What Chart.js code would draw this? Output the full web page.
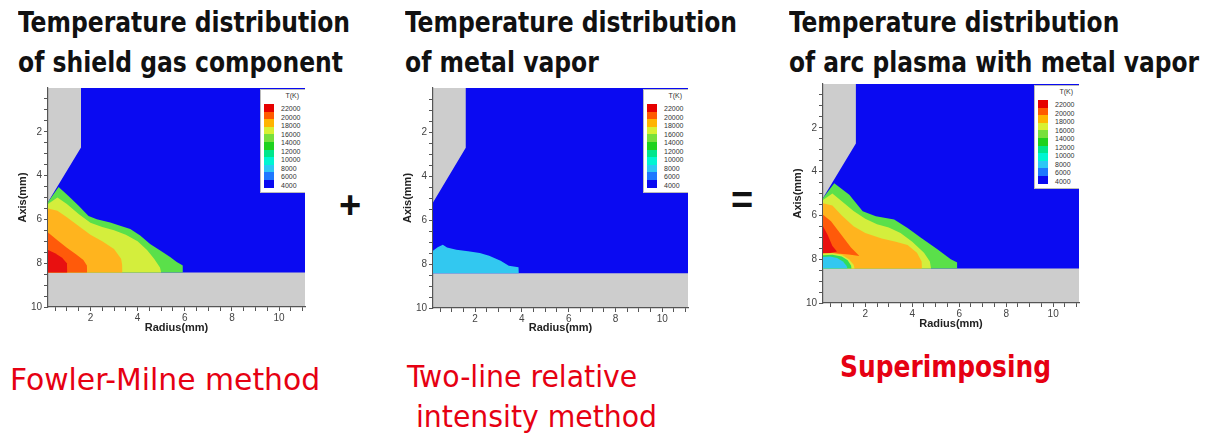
<!DOCTYPE html>
<html>
<head>
<meta charset="utf-8">
<script src="https://cdn.jsdelivr.net/npm/chart.js@4.4.1/dist/chart.umd.min.js"></script>
<style>
  body { margin: 0; width: 1208px; height: 434px; background: #fff; position: relative; overflow: hidden; font-family: "Liberation Sans", Arial, sans-serif; }
  .title { position: absolute; font-family: "Liberation Sans Narrow", "DejaVu Sans Condensed", sans-serif; font-stretch: condensed; font-weight: bold; font-size: 28px; line-height: 40px; color: #111; white-space: nowrap; transform-origin: 0 0; }
  .note { position: absolute; font-family: "Liberation Sans Narrow", "DejaVu Sans Condensed", sans-serif; font-stretch: condensed; font-size: 30px; line-height: 40px; color: #e60012; white-space: nowrap; transform-origin: 0 0; }
  .op { position: absolute; font-family: "Liberation Sans", Arial, sans-serif; font-weight: bold; font-size: 38px; color: #111; }
  .panel { position: absolute; }
  .panel canvas { position: absolute; left: 0; top: 0; }
  .lg { position: absolute; background: #fff; width: 45px; height: 104px; font-size: 7px; color: #333; box-sizing: border-box; border: 1px solid #bbb; border-right: none; }
  .lg .sw { position: absolute; left: 3px; width: 10px; }
  .lg .lb { position: absolute; left: 20px; line-height: 8px; }
  .lg .tk { position: absolute; right: 6px; top: 2px; }
</style>
</head>
<body>
<div class="title fit" data-w="332" style="left:18px;top:3px">Temperature distribution<br>of shield gas component</div>
<div class="title fit" data-w="332" style="left:405px;top:3px">Temperature distribution<br>of metal vapor</div>
<div class="title fit" data-w="410" style="left:789px;top:3px">Temperature distribution<br>of arc plasma with metal vapor</div>

<div class="op" style="left:339px;top:184px">+</div>
<div class="op" style="left:731px;top:179px">=</div>

<div class="note fit" data-w="310" style="left:10px;top:360px">Fowler-Milne method</div>
<div class="note fit" data-w="250" style="left:407px;top:357px">Two-line relative<br>&nbsp;intensity method</div>
<div class="note fit" data-w="211" style="left:840px;top:346px;font-size:31px;font-weight:bold">Superimposing</div>

<div class="panel" id="p1" style="left:0px;top:80px"><canvas id="c1" width="320" height="260"></canvas></div>
<div class="panel" id="p2" style="left:390px;top:80px"><canvas id="c2" width="310" height="260"></canvas></div>
<div class="panel" id="p3" style="left:780px;top:76px"><canvas id="c3" width="310" height="260"></canvas></div>

<script>
// axis ranges (mm)
const radiusMin = 0.2, radiusMax = 11.1;
const axisMin = 0, axisMax = 10;
const tickLabels = [2, 4, 6, 8, 10];
const anodeLevel = 8.42; // top of the anode (gray below)

// gas domain boundary: electrode tip edge then top of domain
const gasDomain = [[0.2, 5.2], [1.6, 2.72], [1.6, 0], [11.1, 0]];

// legend
const legendLevels = [22000, 20000, 18000, 16000, 14000, 12000, 10000, 8000, 6000, 4000];
const legendColors = ['#e60000', '#ff5a00', '#ffb400', '#d8f032', '#78e03c', '#1ed21e', '#00e68c', '#00f5d2', '#2dc8f5', '#1e78ff', '#0a0af0'];

// shield gas component (Fowler-Milne)
const shieldT14 = [[0.2, 5.2], [0.65, 4.52], [1.07, 4.93], [1.5, 5.38], [1.92, 5.84], [2.27, 5.99], [2.84, 6.14], [3.26, 6.29], [3.69, 6.44], [4.11, 6.74], [4.53, 7.12], [4.96, 7.42], [5.38, 7.72], [5.66, 7.95], [5.92, 8.1]];
const shieldT16 = [[0.2, 5.3], [0.6, 5.0], [1.0, 5.3], [1.5, 5.75], [2.0, 6.15], [2.5, 6.35], [3.0, 6.5], [3.5, 6.7], [4.0, 7.0], [4.4, 7.4], [4.7, 7.8], [4.95, 8.2], [5.0, 8.42]];
const shieldT18 = [[0.2, 5.5], [0.6, 5.6], [1.0, 5.9], [1.5, 6.3], [2.0, 6.7], [2.5, 7.0], [3.0, 7.35], [3.3, 7.8], [3.35, 8.1], [3.36, 8.42]];
const shieldT20 = [[0.2, 6.6], [0.6, 6.95], [1.0, 7.3], [1.4, 7.6], [1.7, 7.85], [1.85, 8.1], [1.86, 8.42]];
const shieldT22 = [[0.2, 7.4], [0.5, 7.55], [0.8, 7.75], [1.0, 8.0], [1.02, 8.3]];

// metal vapor (two-line relative intensity)
const vaporT8 = [[0.2, 7.4], [0.4, 7.24], [0.62, 7.12], [0.8, 7.25], [1.2, 7.35], [1.7, 7.42], [2.2, 7.5], [2.6, 7.62], [3.09, 7.85], [3.44, 8.08], [3.86, 8.15], [3.87, 8.42]];

// superimposed arc plasma with metal vapor
const arcT14 = [[0.2, 5.2], [0.68, 4.53], [1.32, 5.06], [1.89, 5.81], [2.45, 6.04], [3.23, 6.19], [3.8, 6.57], [4.37, 7.02], [5.07, 7.55], [5.64, 8.0], [5.92, 8.15]];
const arcT16 = [[0.2, 5.3], [0.6, 5.0], [1.0, 5.35], [1.5, 5.8], [2.0, 6.15], [2.5, 6.4], [3.0, 6.55], [3.5, 6.8], [4.0, 7.2], [4.5, 7.7], [4.75, 8.1], [4.8, 8.42]];
const arcT18 = [[0.2, 5.45], [0.6, 5.55], [1.0, 6.0], [1.5, 6.5], [2.0, 6.8], [2.7, 7.05], [3.3, 7.2], [3.8, 7.35], [4.2, 7.7], [4.4, 8.1], [4.41, 8.42]];
const arcT20Top = [[0.2, 5.97], [0.54, 6.27], [0.97, 6.87], [1.39, 7.47], [1.75, 7.85]];
const arcT20Bottom = [[0.2, 7.75], [0.8, 7.74], [1.3, 7.78], [1.75, 7.85]];
const arcT22Top = [[0.2, 6.5], [0.4, 6.9], [0.6, 7.4], [0.8, 7.65]];
const arcT22Bottom = [[0.2, 7.72], [0.5, 7.72], [0.8, 7.65]];
const arcCoreT16 = [[0.2, 7.74], [0.6, 7.72], [1.0, 7.8], [1.3, 8.0], [1.5, 8.25], [1.55, 8.42]];
const arcCoreT12 = [[0.2, 7.82], [0.6, 7.8], [1.0, 7.88], [1.25, 8.05], [1.4, 8.3], [1.42, 8.42]];
const arcCoreT8 = [[0.2, 7.9], [0.5, 7.88], [0.8, 7.95], [1.05, 8.1], [1.2, 8.3], [1.25, 8.42]];

const colorOf = {
  4000: '#0a0af2', 8000: '#32c8f0', 12000: '#30dc5a', 14000: '#5ae04a',
  16000: '#d4ee3c', 18000: '#ffb41e', 20000: '#ff5a0a', 22000: '#e81010'
};

// squeeze/stretch the slide texts to the widths they have in the picture
for (const el of document.querySelectorAll('.fit')) {
  const w = el.getBoundingClientRect().width;
  el.style.transform = `scaleX(${(+el.dataset.w / w).toFixed(3)})`;
}

function region(points, color, fill) {
  return {
    data: points.map(([x, y]) => ({ x, y })),
    showLine: true, borderWidth: 0, pointRadius: 0, tension: 0,
    backgroundColor: color, borderColor: color, fill: fill
  };
}

const grayArea = {
  id: 'grayArea',
  beforeDraw(chart) {
    const { ctx, chartArea: a } = chart;
    ctx.save();
    ctx.fillStyle = '#cdcdcd';
    ctx.fillRect(a.left, a.top, a.right - a.left, a.bottom - a.top);
    ctx.restore();
  }
};

function makePanel(canvasId, panelId, layers, pad, yWidth, xHeight) {
  const datasets = layers.map((d, i) => Object.assign(d, { order: layers.length - i }));
  const chart = new Chart(document.getElementById(canvasId), {
    type: 'scatter',
    data: { datasets },
    options: {
      responsive: false, animation: false, events: [],
      layout: { padding: pad },
      plugins: { legend: { display: false }, tooltip: { enabled: false } },
      scales: {
        x: {
          type: 'linear', min: radiusMin, max: radiusMax,
          afterFit: s => { s.height = xHeight; },
          afterBuildTicks: s => { s.ticks = []; for (let v = 0.5; v <= radiusMax; v += 0.5) s.ticks.push({ value: v }); },
          ticks: {
            autoSkip: false, maxRotation: 0, padding: 1, color: '#444',
            font: { family: 'Liberation Sans', size: 10 },
            callback: v => tickLabels.includes(v) ? String(v) : ''
          },
          grid: { drawOnChartArea: false, tickLength: 4, color: '#555' },
          border: { color: '#555', width: 1.2 },
          title: { display: true, text: 'Radius(mm)', color: '#222', padding: { top: 0, bottom: 5 },
                   font: { family: 'Liberation Sans', size: 11, weight: 'bold' } }
        },
        y: {
          type: 'linear', reverse: true, min: axisMin, max: axisMax,
          afterFit: s => { s.width = yWidth; },
          afterBuildTicks: s => { s.ticks = []; for (let v = 0.5; v <= axisMax; v += 0.5) s.ticks.push({ value: v }); },
          ticks: {
            autoSkip: false, padding: 2, color: '#444',
            font: { family: 'Liberation Sans', size: 10 },
            callback: v => tickLabels.includes(v) ? String(v) : ''
          },
          grid: { drawOnChartArea: false, tickLength: 4, color: '#555' },
          border: { color: '#555', width: 1.2 },
          title: { display: true, text: 'Axis(mm)', color: '#222', padding: { top: 0, bottom: 0 },
                   font: { family: 'Liberation Sans', size: 11, weight: 'bold' } }
        }
      }
    },
    plugins: [grayArea]
  });

  // contour legend box in the top right corner of the plot
  const a = chart.chartArea;
  const box = document.createElement('div');
  box.className = 'lg';
  box.style.left = (a.right - 45) + 'px';
  box.style.top = (a.top + 1) + 'px';
  const tk = document.createElement('div');
  tk.className = 'tk'; tk.textContent = 'T(K)';
  box.appendChild(tk);
  legendColors.forEach((c, i) => {
    const sw = document.createElement('div');
    sw.className = 'sw';
    sw.style.top = (14 + i * 7.6) + 'px';
    sw.style.height = '7.8px';
    sw.style.background = c;
    box.appendChild(sw);
  });
  legendLevels.forEach((v, i) => {
    const lb = document.createElement('div');
    lb.className = 'lb';
    lb.style.top = (15 + i * 8.5) + 'px';
    lb.textContent = v;
    box.appendChild(lb);
  });
  document.getElementById(panelId).appendChild(box);
  return chart;
}

makePanel('c1', 'p1', [
  region(gasDomain, colorOf[4000], { value: anodeLevel }),
  region(shieldT14, colorOf[14000], { value: anodeLevel }),
  region(shieldT16, colorOf[16000], { value: anodeLevel }),
  region(shieldT18, colorOf[18000], { value: anodeLevel }),
  region(shieldT20, colorOf[20000], { value: anodeLevel }),
  region(shieldT22, colorOf[22000], { value: anodeLevel })
], { left: 16, right: 15, top: 7, bottom: 0 }, 32, 33);

makePanel('c2', 'p2', [
  region(gasDomain, colorOf[4000], { value: anodeLevel }),
  region(vaporT8, colorOf[8000], { value: anodeLevel })
], { left: 11, right: 12, top: 7, bottom: 0 }, 32, 32);

makePanel('c3', 'p3', [
  region(gasDomain, colorOf[4000], { value: anodeLevel }),
  region(arcT14, colorOf[14000], { value: anodeLevel }),
  region(arcT16, colorOf[16000], { value: anodeLevel }),
  region(arcT18, colorOf[18000], { value: anodeLevel }),
  region(arcT20Top, colorOf[20000], '+1'),
  region(arcT20Bottom, 'rgba(0,0,0,0)', false),
  region(arcT22Top, colorOf[22000], '+1'),
  region(arcT22Bottom, 'rgba(0,0,0,0)', false),
  region(arcCoreT16, colorOf[16000], { value: anodeLevel }),
  region(arcCoreT12, colorOf[12000], { value: anodeLevel }),
  region(arcCoreT8, colorOf[8000], { value: anodeLevel })
], { left: 11, right: 11, top: 7, bottom: 0 }, 32, 33);
</script>
</body>
</html>
